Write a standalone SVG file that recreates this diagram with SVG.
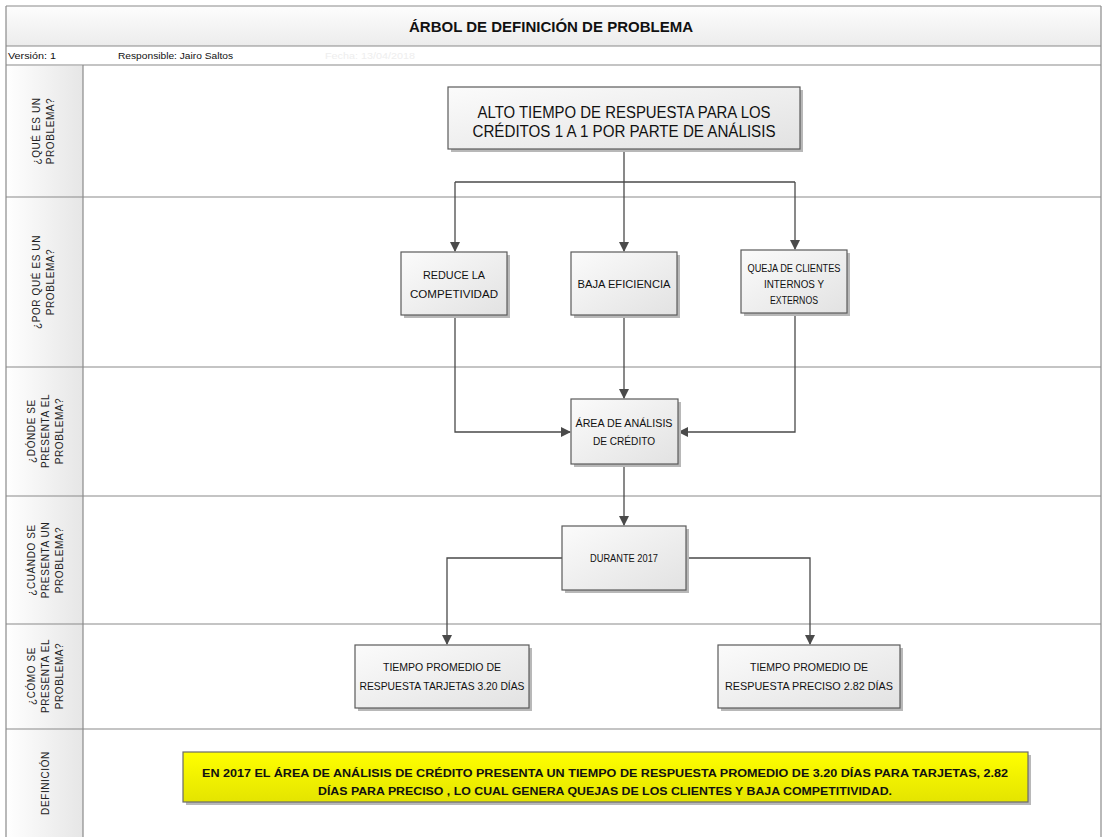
<svg xmlns="http://www.w3.org/2000/svg" width="1103" height="837" viewBox="0 0 1103 837">
<defs>
<linearGradient id="gBox" x1="0" y1="0" x2="1" y2="1">
<stop offset="0" stop-color="#fbfbfb"/><stop offset="1" stop-color="#e2e2e2"/>
</linearGradient>
<linearGradient id="gLane" x1="0" y1="0" x2="1" y2="0">
<stop offset="0" stop-color="#ffffff"/><stop offset="1" stop-color="#e6e6e6"/>
</linearGradient>
<linearGradient id="gTitle" x1="0" y1="0" x2="0" y2="1">
<stop offset="0" stop-color="#fdfdfd"/><stop offset="1" stop-color="#ececec"/>
</linearGradient>
<linearGradient id="gYellow" x1="0" y1="0" x2="0" y2="1">
<stop offset="0" stop-color="#ffff00"/><stop offset="1" stop-color="#e4e400"/>
</linearGradient>
<marker id="arr" markerWidth="10" markerHeight="10" refX="9" refY="5" orient="auto" markerUnits="userSpaceOnUse">
<path d="M0,0 L10,5 L0,10 z" fill="#4a4a4a"/>
</marker>
</defs>
<style>
.grid{stroke:#8a8a8a;stroke-width:1.2;fill:none}
.lane{fill:url(#gLane)}
.lbl{font-family:"Liberation Sans",Arial,sans-serif;font-size:10px;fill:#222;text-anchor:middle;letter-spacing:0.6px}
.box{fill:url(#gBox);stroke:#5a5a5a;stroke-width:1.2}
.shadow{fill:#b8b8b8}
.bt{font-family:"Liberation Sans",Arial,sans-serif;fill:#111;text-anchor:middle}
.conn{stroke:#4a4a4a;stroke-width:1.3;fill:none}
.hdr{font-family:"Liberation Sans",Arial,sans-serif;font-size:9px;fill:#111}
</style>
<rect x="0" y="0" width="1103" height="837" fill="#ffffff"/>
<!-- frame -->
<g id="frame">
<rect x="6" y="6" width="1095" height="40" fill="url(#gTitle)"/>
<rect x="6" y="66" width="77" height="771" class="lane"/>
<line x1="6" y1="6" x2="1101" y2="6" class="grid"/>
<line x1="6" y1="46" x2="1101" y2="46" class="grid"/>
<line x1="6" y1="65" x2="1101" y2="65" class="grid"/>
<line x1="6" y1="197" x2="1101" y2="197" class="grid"/>
<line x1="6" y1="367" x2="1101" y2="367" class="grid"/>
<line x1="6" y1="496" x2="1101" y2="496" class="grid"/>
<line x1="6" y1="624" x2="1101" y2="624" class="grid"/>
<line x1="6" y1="729" x2="1101" y2="729" class="grid"/>
<line x1="6" y1="6" x2="6" y2="837" class="grid"/>
<line x1="1101" y1="6" x2="1101" y2="837" class="grid"/>
<line x1="83" y1="65" x2="83" y2="837" class="grid"/>
<text x="551" y="32" style="font-family:'Liberation Sans',Arial,sans-serif;font-size:14px;font-weight:bold;fill:#111;text-anchor:middle" textLength="284" lengthAdjust="spacingAndGlyphs">ÁRBOL DE DEFINICIÓN DE PROBLEMA</text>
<text x="8" y="59" class="hdr" textLength="48" lengthAdjust="spacingAndGlyphs">Versión: 1</text>
<text x="118" y="59" class="hdr" textLength="115" lengthAdjust="spacingAndGlyphs">Responsible: Jairo Saltos</text>
<text x="325" y="59" class="hdr" style="fill:#eeeeee" textLength="90" lengthAdjust="spacingAndGlyphs">Fecha: 13/04/2018</text>
</g>
<!-- lane labels -->
<g id="lane1"><text class="lbl" transform="translate(40,131) rotate(-90)">¿QUÉ ES UN</text><text class="lbl" transform="translate(54,131) rotate(-90)">PROBLEMA?</text></g>
<g id="lane2"><text class="lbl" transform="translate(40,282) rotate(-90)">¿POR QUÉ ES UN</text><text class="lbl" transform="translate(54,282) rotate(-90)">PROBLEMA?</text></g>
<g id="lane3"><text class="lbl" transform="translate(35,431) rotate(-90)">¿DÓNDE SE</text><text class="lbl" transform="translate(49,431) rotate(-90)">PRESENTA EL</text><text class="lbl" transform="translate(63,431) rotate(-90)">PROBLEMA?</text></g>
<g id="lane4"><text class="lbl" transform="translate(35,560) rotate(-90)">¿CUÁNDO SE</text><text class="lbl" transform="translate(49,560) rotate(-90)">PRESENTA UN</text><text class="lbl" transform="translate(63,560) rotate(-90)">PROBLEMA?</text></g>
<g id="lane5"><text class="lbl" transform="translate(35,676) rotate(-90)">¿CÓMO SE</text><text class="lbl" transform="translate(49,676) rotate(-90)">PRESENTA EL</text><text class="lbl" transform="translate(63,676) rotate(-90)">PROBLEMA?</text></g>
<g id="lane6"><text class="lbl" transform="translate(49,783) rotate(-90)">DEFINICIÓN</text></g>
<!-- connectors -->
<g id="connectors">
<path class="conn" d="M624,149 V182"/>
<path class="conn" d="M455,182 H795"/>
<path class="conn" d="M455,182 V251" marker-end="url(#arr)"/>
<path class="conn" d="M624,182 V251" marker-end="url(#arr)"/>
<path class="conn" d="M795,182 V249" marker-end="url(#arr)"/>
<path class="conn" d="M455,316 V432 H570" marker-end="url(#arr)"/>
<path class="conn" d="M624,316 V398" marker-end="url(#arr)"/>
<path class="conn" d="M795,314 V432 H679" marker-end="url(#arr)"/>
<path class="conn" d="M624,465 V525" marker-end="url(#arr)"/>
<path class="conn" d="M562,558 H447 V644" marker-end="url(#arr)"/>
<path class="conn" d="M686,558 H810 V644" marker-end="url(#arr)"/>
</g>
<!-- nodes -->
<g id="n_problema">
<rect x="451" y="90" width="352" height="62" class="shadow"/>
<rect x="448" y="87" width="352" height="62" class="box"/>
<text class="bt" x="624" y="118" style="font-size:16px" textLength="293" lengthAdjust="spacingAndGlyphs">ALTO TIEMPO DE RESPUESTA PARA LOS</text>
<text class="bt" x="624" y="137" style="font-size:16px" textLength="303" lengthAdjust="spacingAndGlyphs">CRÉDITOS 1 A 1 POR PARTE DE ANÁLISIS</text>
</g>
<g id="n_reduce">
<rect x="404" y="255" width="106" height="63" class="shadow"/>
<rect x="401" y="252" width="106" height="63" class="box"/>
<text class="bt" x="454" y="279" style="font-size:11px" textLength="62" lengthAdjust="spacingAndGlyphs">REDUCE LA</text>
<text class="bt" x="454" y="298" style="font-size:11px" textLength="88" lengthAdjust="spacingAndGlyphs">COMPETIVIDAD</text>
</g>
<g id="n_baja">
<rect x="574" y="255" width="106" height="63" class="shadow"/>
<rect x="571" y="252" width="106" height="63" class="box"/>
<text class="bt" x="624" y="288" style="font-size:11px" textLength="93" lengthAdjust="spacingAndGlyphs">BAJA EFICIENCIA</text>
</g>
<g id="n_queja">
<rect x="744" y="253" width="106" height="63" class="shadow"/>
<rect x="741" y="250" width="106" height="63" class="box"/>
<text class="bt" x="794" y="272" style="font-size:10px" textLength="93" lengthAdjust="spacingAndGlyphs">QUEJA DE CLIENTES</text>
<text class="bt" x="794" y="288" style="font-size:10px" textLength="60" lengthAdjust="spacingAndGlyphs">INTERNOS Y</text>
<text class="bt" x="794" y="304" style="font-size:10px" textLength="48" lengthAdjust="spacingAndGlyphs">EXTERNOS</text>
</g>
<g id="n_area">
<rect x="574" y="402" width="107" height="65" class="shadow"/>
<rect x="571" y="399" width="107" height="65" class="box"/>
<text class="bt" x="624" y="427" style="font-size:11px" textLength="97" lengthAdjust="spacingAndGlyphs">ÁREA DE ANÁLISIS</text>
<text class="bt" x="624" y="445" style="font-size:11px" textLength="62" lengthAdjust="spacingAndGlyphs">DE CRÉDITO</text>
</g>
<g id="n_durante">
<rect x="565" y="529" width="124" height="64" class="shadow"/>
<rect x="562" y="526" width="124" height="64" class="box"/>
<text class="bt" x="624" y="562" style="font-size:11px" textLength="68" lengthAdjust="spacingAndGlyphs">DURANTE 2017</text>
</g>
<g id="n_tarjetas">
<rect x="358" y="648" width="174" height="63" class="shadow"/>
<rect x="355" y="645" width="174" height="63" class="box"/>
<text class="bt" x="442" y="671" style="font-size:11px" textLength="118" lengthAdjust="spacingAndGlyphs">TIEMPO PROMEDIO DE</text>
<text class="bt" x="442" y="690" style="font-size:11px" textLength="165" lengthAdjust="spacingAndGlyphs">RESPUESTA TARJETAS 3.20 DÍAS</text>
</g>
<g id="n_preciso">
<rect x="721" y="648" width="182" height="63" class="shadow"/>
<rect x="718" y="645" width="182" height="63" class="box"/>
<text class="bt" x="809" y="671" style="font-size:11px" textLength="118" lengthAdjust="spacingAndGlyphs">TIEMPO PROMEDIO DE</text>
<text class="bt" x="809" y="690" style="font-size:11px" textLength="168" lengthAdjust="spacingAndGlyphs">RESPUESTA PRECISO 2.82 DÍAS</text>
</g>
<g id="n_definicion">
<rect x="186" y="755" width="845" height="50" class="shadow"/>
<rect x="183" y="752" width="845" height="50" style="fill:url(#gYellow);stroke:#6a6a6a;stroke-width:1.2"/>
<text class="bt" x="605" y="777" style="font-size:11px;font-weight:bold" textLength="806" lengthAdjust="spacingAndGlyphs">EN 2017 EL ÁREA DE ANÁLISIS DE CRÉDITO PRESENTA UN TIEMPO DE RESPUESTA PROMEDIO DE 3.20 DÍAS PARA TARJETAS, 2.82</text>
<text class="bt" x="605" y="795" style="font-size:11px;font-weight:bold" textLength="574" lengthAdjust="spacingAndGlyphs">DÍAS PARA PRECISO , LO CUAL GENERA QUEJAS DE LOS CLIENTES Y BAJA COMPETITIVIDAD.</text>
</g>
</svg>
